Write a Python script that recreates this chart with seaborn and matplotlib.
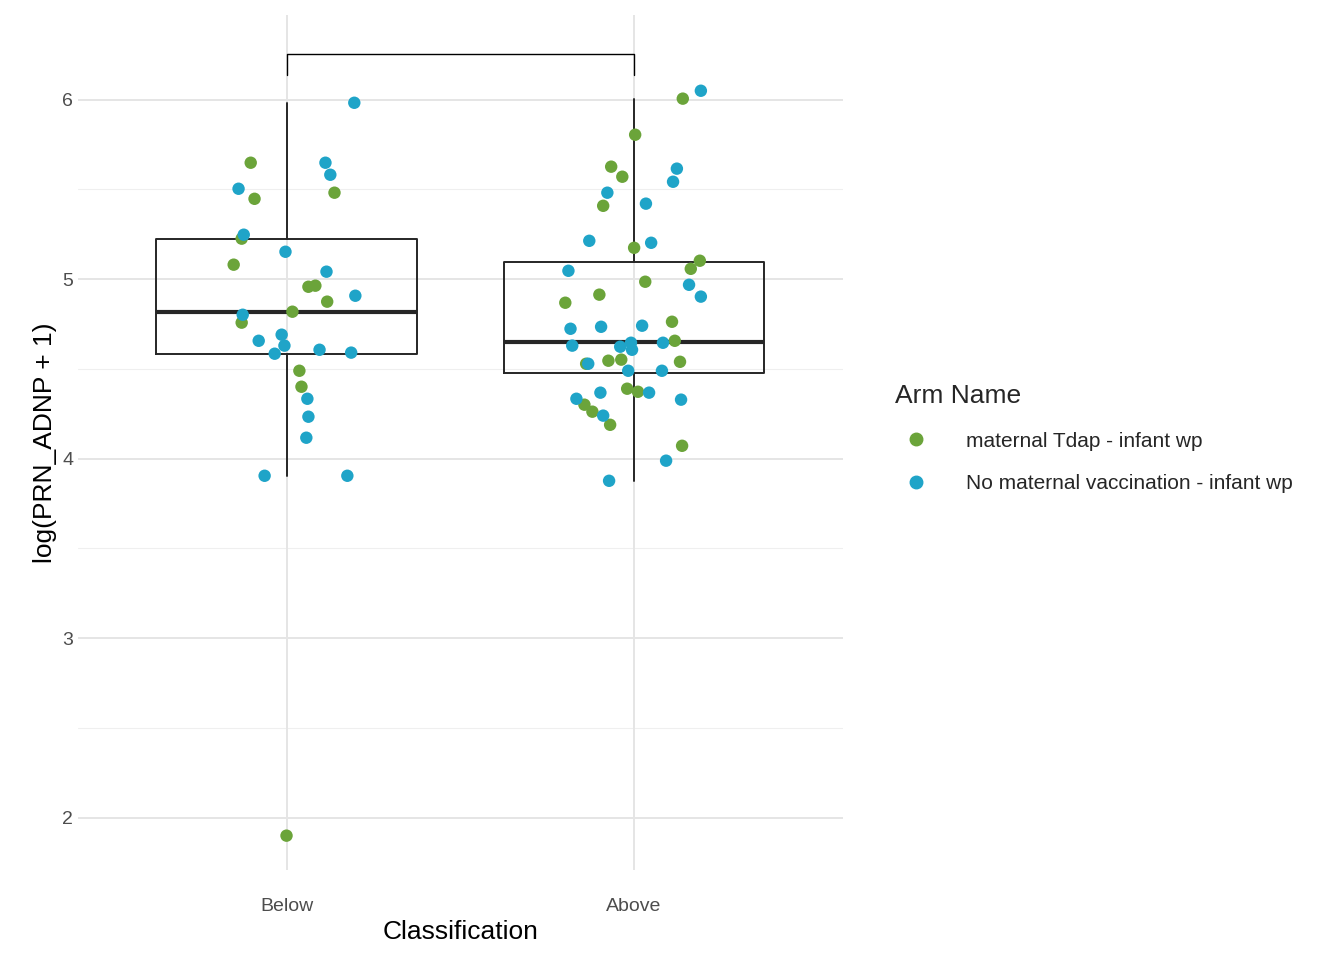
import matplotlib
matplotlib.use("Agg")
import matplotlib.pyplot as plt
import numpy as np
import pandas as pd
import seaborn as sns

categories = ["Below", "Above"]
arms = ["maternal Tdap - infant wp", "No maternal vaccination - infant wp"]
palette = {arms[0]: "#6BA43A", arms[1]: "#1FA4C8"}

# box summary: whisker low, Q1, median, Q3, whisker high
box_whislo = [3.905, 3.877]
box_q1 = [4.585, 4.479]
box_med = [4.815, 4.652]
box_q3 = [5.222, 5.097]
box_whishi = [5.983, 6.006]

# Below, maternal Tdap
below_tdap_y = [5.649, 5.448, 5.226, 5.081, 4.758, 4.819, 4.958, 4.964, 4.875, 5.482, 4.490, 4.401, 1.900]
below_tdap_jit = [-0.103, -0.092, -0.129, -0.152, -0.129, 0.017, 0.063, 0.083, 0.117, 0.138, 0.037, 0.043, 0.0]
# Below, no maternal vaccination
below_none_y = [5.504, 5.248, 5.153, 4.802, 4.657, 4.585, 4.691, 4.630, 4.607, 5.649, 5.582, 5.042, 4.908,
                4.591, 4.334, 4.234, 4.117, 3.905, 3.905, 5.983]
below_none_jit = [-0.138, -0.123, -0.003, -0.126, -0.080, -0.034, -0.014, -0.006, 0.095, 0.112, 0.126, 0.115,
                  0.198, 0.186, 0.060, 0.063, 0.057, -0.063, 0.175, 0.195]
# Above, maternal Tdap
above_tdap_y = [6.006, 5.805, 5.627, 5.571, 5.409, 5.175, 4.986, 4.869, 4.914, 5.058, 5.103, 4.763, 4.657,
                4.540, 4.546, 4.552, 4.529, 4.390, 4.373, 4.301, 4.262, 4.189, 4.072]
above_tdap_jit = [0.140, 0.003, -0.066, -0.034, -0.089, 0.0, 0.032, -0.198, -0.100, 0.163, 0.189, 0.109, 0.117,
                  0.132, -0.074, -0.037, -0.138, -0.020, 0.011, -0.143, -0.120, -0.069, 0.138]
# Above, no maternal vaccination
above_none_y = [6.050, 5.616, 5.543, 5.482, 5.421, 5.203, 5.214, 5.047, 4.969, 4.903, 4.724, 4.735, 4.741,
                4.630, 4.529, 4.624, 4.646, 4.607, 4.646, 4.490, 4.490, 4.368, 4.368, 4.334, 4.329, 4.240,
                3.989, 3.877]
above_none_jit = [0.192, 0.123, 0.112, -0.077, 0.034, 0.049, -0.129, -0.189, 0.158, 0.192, -0.183, -0.095,
                  0.023, -0.178, -0.132, -0.040, -0.009, -0.006, 0.083, -0.017, 0.080, 0.043, -0.097, -0.166,
                  0.135, -0.089, 0.092, -0.072]

groups = [
    (0, arms[0], below_tdap_y, below_tdap_jit),
    (0, arms[1], below_none_y, below_none_jit),
    (1, arms[0], above_tdap_y, above_tdap_jit),
    (1, arms[1], above_none_y, above_none_jit),
]
frames = []
for pos, arm, ys, jit in groups:
    frames.append(pd.DataFrame({
        "Classification": categories[pos],
        "x": np.array(jit) + pos,
        "y": ys,
        "Arm Name": arm,
    }))
df = pd.concat(frames, ignore_index=True)

sns.set_theme(style="white")
plt.rcParams["font.family"] = ["Liberation Sans", "DejaVu Sans"]

fig = plt.figure(figsize=(13.44, 9.6), dpi=100)
ax = fig.add_axes([0.058, 0.094, 0.569, 0.890])

# grid (ggplot minimal style)
for v in [2, 3, 4, 5, 6]:
    ax.axhline(v, color="#e5e5e5", lw=1.4, zorder=0)
for v in [2.5, 3.5, 4.5, 5.5]:
    ax.axhline(v, color="#efefef", lw=0.8, zorder=0)
for v in [0, 1]:
    ax.axvline(v, color="#e5e5e5", lw=1.4, zorder=0)

stats = [
    {"whislo": box_whislo[i], "q1": box_q1[i], "med": box_med[i], "q3": box_q3[i],
     "whishi": box_whishi[i], "fliers": [], "label": categories[i]}
    for i in range(len(categories))
]
ax.bxp(stats, positions=[0, 1], widths=0.75, showcaps=False, showfliers=False,
       boxprops={"color": "#262626", "linewidth": 1.4},
       whiskerprops={"color": "#262626", "linewidth": 1.4},
       medianprops={"color": "#262626", "linewidth": 3}, zorder=2)

sns.scatterplot(data=df, x="x", y="y", hue="Arm Name", hue_order=arms, palette=palette,
                s=80, edgecolor="none", ax=ax, zorder=3, legend=False)

# significance bracket
ax.plot([0, 0, 1, 1], [6.14, 6.256, 6.256, 6.14], color="black", lw=1, zorder=4)

ax.set_xlim(-0.6, 1.6)
ax.set_ylim(1.71, 6.47)
ax.set_xticks([0, 1])
ax.set_xticklabels(categories)
ax.set_yticks([2, 3, 4, 5, 6])
ax.tick_params(axis="both", labelsize=14, colors="#4d4d4d", length=0)
ax.tick_params(axis="x", pad=20)
ax.set_xlabel("Classification", fontsize=19, color="black", labelpad=4)
ax.set_ylabel("log(PRN_ADNP + 1)", fontsize=19, color="black", labelpad=4)
for sp in ax.spines.values():
    sp.set_visible(False)

handles = [plt.Line2D([], [], marker="o", ls="", markersize=9, color=palette[a]) for a in arms]
fig.legend(handles, arms, title="Arm Name", loc="upper left", bbox_to_anchor=(0.652, 0.62),
           frameon=False, fontsize=15, title_fontsize=19, handletextpad=1.4, labelspacing=1.15,
           alignment="left")

fig.savefig("out.png", dpi=100)
